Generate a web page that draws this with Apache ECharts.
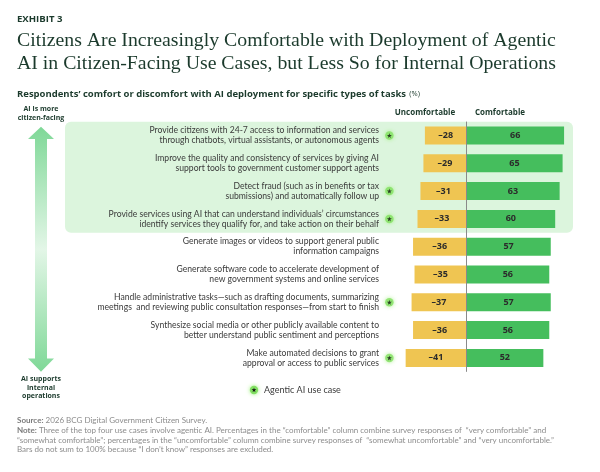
<!DOCTYPE html>
<html>
<head>
<meta charset="utf-8">
<script src="https://cdn.jsdelivr.net/npm/echarts@6/dist/echarts.min.js"></script>
<style>
  html, body { margin: 0; padding: 0; background: #fff; }
  #chart { width: 600px; height: 472px; }
</style>
</head>
<body>
<div id="chart"></div>
<script>
const tasks = [
  'Provide citizens with 24-7 access to information and services\nthrough chatbots, virtual assistants, or autonomous agents',
  'Improve the quality and consistency of services by giving AI\nsupport tools to government customer support agents',
  'Detect fraud (such as in benefits or tax\nsubmissions) and automatically follow up',
  'Provide services using AI that can understand individuals’ circumstances\nidentify services they qualify for, and take action on their behalf',
  'Generate images or videos to support general public\ninformation campaigns',
  'Generate software code to accelerate development of\nnew government systems and online services',
  'Handle administrative tasks—such as drafting documents, summarizing\nmeetings  and reviewing public consultation responses—from start to finish',
  'Synthesize social media or other publicly available content to\nbetter understand public sentiment and perceptions',
  'Make automated decisions to grant\napproval or access to public services'
];
const uncomfortable = [-28, -29, -31, -33, -36, -35, -37, -36, -41];
const comfortable = [66, 65, 63, 60, 57, 56, 57, 56, 52];
const agentic = [true, false, true, true, false, false, true, false, true];

const STAR_X = -52; // column of the agentic markers, left of the bars
const starPts = [[50,0],[61,35],[98,35],[68,57],[79,91],[50,70],[21,91],[32,57],[2,35],[39,35]];
const starPath = 'path://M' + starPts.map(p => p.join(',')).join(' L') + ' Z';

const TEXT = '#3a3a3a';
const DARK = '#1b3a2c';
const SANS = 'Lato, "Open Sans", sans-serif';
const BOLD = '"Open Sans", Lato, sans-serif';

const starData = agentic.map((a, i) => (a ? [STAR_X, i] : null)).filter(Boolean);

const chart = echarts.init(document.getElementById('chart'));

const footLines = [
  '{b|Source:} 2026 BCG Digital Government Citizen Survey.',
  '{b|Note:} Three of the top four use cases involve agentic AI. Percentages in the “comfortable” column combine survey responses of  “very comfortable” and',
  '“somewhat comfortable”; percentages in the “uncomfortable” column combine survey responses of  “somewhat uncomfortable” and “very uncomfortable.”',
  'Bars do not sum to 100% because “I don’t know” responses are excluded.'
];

const arrowGradient = new echarts.graphic.LinearGradient(0, 0, 0, 1, [
  { offset: 0, color: '#7fd897' },
  { offset: 0.5, color: '#e3f6e7' },
  { offset: 1, color: '#7fd897' }
]);

// legend star glyph, 5px wide centred on (254, 390)
const legendStar = starPts.map(p => [254 - 2.5 + p[0] / 20, 390 - 2.4 + p[1] / 20]);

const option = {
  animation: false,
  textStyle: { fontFamily: SANS },
  grid: { left: 379, right: 30, top: 121.6, height: 250.2 },
  xAxis: {
    type: 'value',
    min: -59,
    max: 70,
    axisLine: { show: false },
    axisTick: { show: false },
    axisLabel: { show: false },
    splitLine: { show: false }
  },
  yAxis: {
    type: 'category',
    inverse: true,
    data: tasks,
    axisLine: { show: false },
    axisTick: { show: false },
    axisLabel: {
      margin: 0,
      color: TEXT,
      fontSize: 8.6,
      lineHeight: 10,
      align: 'right',
      fontFamily: SANS
    }
  },
  series: [
    {
      type: 'bar',
      name: 'Uncomfortable',
      stack: 'all',
      data: uncomfortable,
      barWidth: 18,
      itemStyle: { color: '#efc552' },
      label: {
        show: true,
        position: 'inside',
        color: '#2b2b2b',
        fontWeight: 'bold',
        fontSize: 9,
        fontFamily: BOLD,
        formatter: (p) => '–' + Math.abs(p.value)
      },
      markLine: {
        silent: true,
        symbol: 'none',
        label: { show: false },
        lineStyle: { color: '#8a8a8a', width: 1, type: 'solid' },
        data: [{ xAxis: 0 }],
        z: 5
      },
      z: 3
    },
    {
      type: 'bar',
      name: 'Comfortable',
      stack: 'all',
      data: comfortable,
      barWidth: 18,
      itemStyle: { color: '#45be5d' },
      label: {
        show: true,
        position: 'inside',
        color: '#2b2b2b',
        fontWeight: 'bold',
        fontSize: 9,
        fontFamily: BOLD
      },
      z: 3
    },
    {
      type: 'scatter',
      data: starData,
      symbol: 'circle',
      symbolSize: 8.5,
      itemStyle: { color: '#82e062', shadowBlur: 4, shadowColor: '#9ff07c' },
      z: 4
    },
    {
      type: 'scatter',
      data: starData,
      symbol: starPath,
      symbolSize: 5,
      itemStyle: { color: '#111' },
      z: 5
    }
  ],
  graphic: [
    {
      type: 'rect', z: 0, silent: true,
      shape: { x: 65, y: 121.7, width: 508, height: 111, r: 6 },
      style: { fill: '#dcf5dd' }
    },
    {
      type: 'polygon', z: 1, silent: true,
      shape: {
        points: [
          [41, 126.7], [54, 139], [47, 139], [47, 358.5], [54, 358.5],
          [41, 371.7], [28, 358.5], [35, 358.5], [35, 139], [28, 139]
        ]
      },
      style: { fill: arrowGradient }
    },
    {
      type: 'text', x: 17, y: 19,
      style: { text: 'EXHIBIT 3', verticalAlign: 'middle', font: 'bold 9.6px "Open Sans", sans-serif', fill: DARK }
    },
    {
      type: 'text', x: 17, y: 29,
      style: {
        text: 'Citizens Are Increasingly Comfortable with Deployment of Agentic\nAI in Citizen-Facing Use Cases, but Less So for Internal Operations',
        font: '19.8px "Liberation Serif", serif', lineHeight: 23, fill: DARK
      }
    },
    {
      type: 'text', x: 17, y: 94,
      style: {
        text: '{b|Respondents’ comfort or discomfort with AI deployment for specific types of tasks} {s|(%)}',
        verticalAlign: 'middle',
        rich: {
          b: { font: 'bold 9.5px "Open Sans", sans-serif', fill: DARK },
          s: { font: '7.5px "Open Sans", sans-serif', fill: DARK }
        }
      }
    },
    {
      type: 'text', x: 41, y: 113, silent: true,
      style: {
        text: 'AI is more\ncitizen-facing', align: 'center', verticalAlign: 'middle',
        font: 'bold 7px "Open Sans", sans-serif', lineHeight: 9, fill: DARK
      }
    },
    {
      type: 'text', x: 41, y: 387.5, silent: true,
      style: {
        text: 'AI supports\ninternal\noperations', align: 'center', verticalAlign: 'middle',
        font: 'bold 7px "Open Sans", sans-serif', lineHeight: 8.6, fill: DARK
      }
    },
    {
      type: 'text', x: 425, y: 113,
      style: { text: 'Uncomfortable', align: 'center', verticalAlign: 'middle', font: 'bold 8px "Open Sans", sans-serif', fill: DARK }
    },
    {
      type: 'text', x: 500, y: 113,
      style: { text: 'Comfortable', align: 'center', verticalAlign: 'middle', font: 'bold 8px "Open Sans", sans-serif', fill: DARK }
    },
    {
      type: 'circle', silent: true,
      shape: { cx: 254, cy: 390, r: 4.2 },
      style: { fill: '#82e062', shadowBlur: 4, shadowColor: '#9ff07c' }
    },
    {
      type: 'polygon', silent: true,
      shape: { points: legendStar },
      style: { fill: '#111' }
    },
    {
      type: 'text', x: 264, y: 390,
      style: { text: 'Agentic AI use case', verticalAlign: 'middle', font: '9px Lato, sans-serif', fill: TEXT }
    },
    {
      type: 'text', x: 17, y: 416,
      style: {
        text: footLines.join('\n'),
        lineHeight: 9.6,
        font: '8px Lato, sans-serif',
        fill: '#8c8c8c',
        rich: { b: { font: 'bold 8px Lato, sans-serif', fill: '#7a7a7a' } }
      }
    }
  ]
};

chart.setOption(option);
</script>
</body>
</html>
